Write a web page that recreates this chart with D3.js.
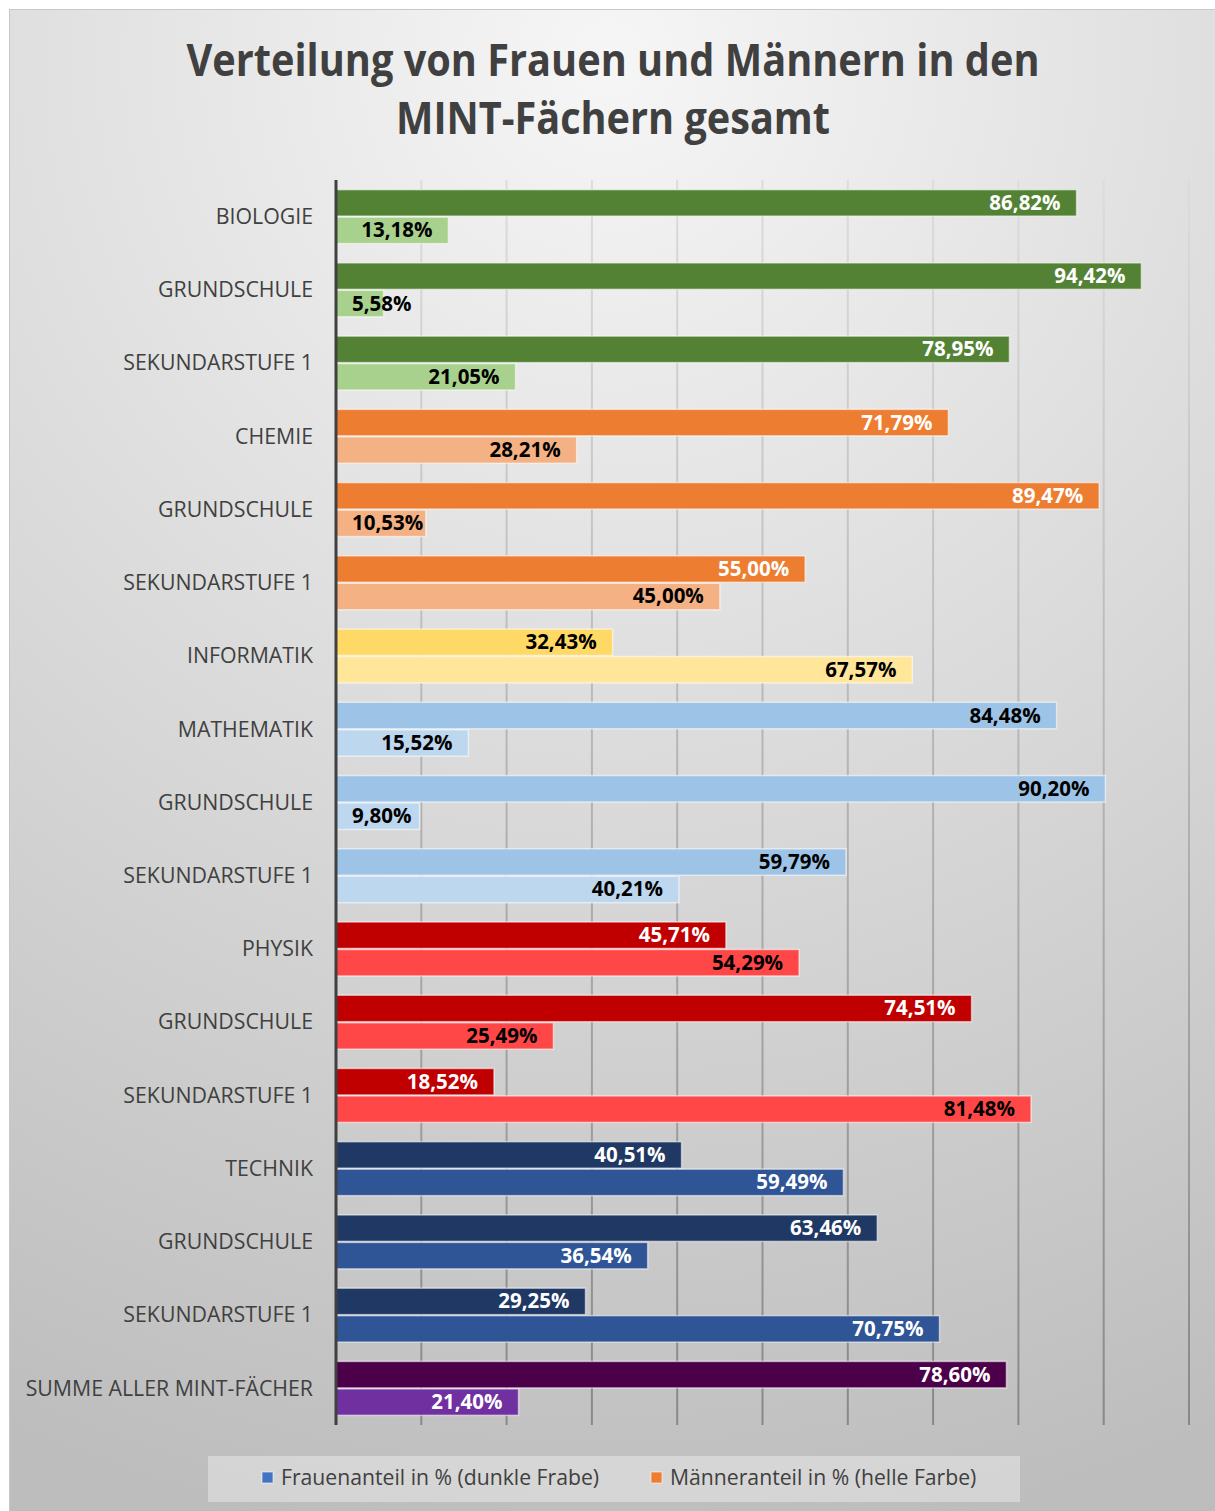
<!DOCTYPE html>
<html>
<head>
<meta charset="utf-8">
<script src="https://cdn.jsdelivr.net/npm/d3@7"></script>
<style>
  html, body { margin: 0; padding: 0; background: #fff; }
  svg { display: block; }
  text { font-family: "Open Sans", "Noto Sans", sans-serif; }
</style>
</head>
<body>
<div id="chart"></div>
<script>
// --- data ---
const categories = [
  "BIOLOGIE", "GRUNDSCHULE", "SEKUNDARSTUFE 1",
  "CHEMIE", "GRUNDSCHULE", "SEKUNDARSTUFE 1",
  "INFORMATIK",
  "MATHEMATIK", "GRUNDSCHULE", "SEKUNDARSTUFE 1",
  "PHYSIK", "GRUNDSCHULE", "SEKUNDARSTUFE 1",
  "TECHNIK", "GRUNDSCHULE", "SEKUNDARSTUFE 1",
  "SUMME ALLER MINT-FÄCHER"
];
const subjects = [
  "bio", "bio", "bio", "chem", "chem", "chem", "inf",
  "mat", "mat", "mat", "phy", "phy", "phy", "tec", "tec", "tec", "sum"
];
const frauen = [86.82, 94.42, 78.95, 71.79, 89.47, 55.00, 32.43, 84.48, 90.20, 59.79, 45.71, 74.51, 18.52, 40.51, 63.46, 29.25, 78.60];
const maenner = [13.18, 5.58, 21.05, 28.21, 10.53, 45.00, 67.57, 15.52, 9.80, 40.21, 54.29, 25.49, 81.48, 59.49, 36.54, 70.75, 21.40];
const gridTicks = [0, 10, 20, 30, 40, 50, 60, 70, 80, 90, 100];
const legendLabels = ["Frauenanteil in % (dunkle Frabe)", "Männeranteil in % (helle Farbe)"];
const titleLines = ["Verteilung von Frauen und Männern in den", "MINT-Fächern gesamt"];

// colours per subject: [dark bar, light bar, dark label, light label]
const palette = {
  bio:  ["#548235", "#a9d18e", "#fff", "#000"],
  chem: ["#ed7d31", "#f4b183", "#fff", "#000"],
  inf:  ["#ffd966", "#ffe699", "#000", "#000"],
  mat:  ["#9dc3e6", "#bdd7ee", "#000", "#000"],
  phy:  ["#c00000", "#ff4747", "#fff", "#000"],
  tec:  ["#203864", "#2f5597", "#fff", "#fff"],
  sum:  ["#4b0049", "#7030a0", "#fff", "#fff"]
};

const W = 1215, H = 1511;
const plot = { left: 336, right: 1189, top: 180, bottom: 1425 };

const svg = d3.select("#chart").append("svg")
  .attr("width", W)
  .attr("height", H);

const defs = svg.append("defs");
const bg = defs.append("radialGradient")
  .attr("id", "bg")
  .attr("gradientUnits", "userSpaceOnUse")
  .attr("cx", 610).attr("cy", 60).attr("r", 1500);
bg.append("stop").attr("offset", "0%").attr("stop-color", "#f6f6f6");
bg.append("stop").attr("offset", "100%").attr("stop-color", "#bdbdbd");

const gridGrad = defs.append("linearGradient")
  .attr("id", "gridGrad")
  .attr("gradientUnits", "userSpaceOnUse")
  .attr("x1", 0).attr("x2", 0)
  .attr("y1", plot.top).attr("y2", plot.bottom);
gridGrad.append("stop").attr("offset", "0%").attr("stop-color", "#dcdcdc");
gridGrad.append("stop").attr("offset", "100%").attr("stop-color", "#888");

// chart frame
svg.append("rect")
  .attr("x", 9.5).attr("y", 9.5)
  .attr("width", W).attr("height", H)
  .attr("fill", "url(#bg)")
  .attr("stroke", "#c8c8c8");

// title
const title = svg.append("g").attr("font-weight", 700).attr("fill", "#404040")
  .attr("text-anchor", "middle");
title.selectAll("text").data(titleLines).join("text")
  .attr("x", 613)
  .attr("y", (d, i) => 76 + i * 58)
  .attr("font-size", 44)
  .attr("textLength", (d, i) => i === 0 ? 853 : 434)
  .attr("lengthAdjust", "spacingAndGlyphs")
  .text(d => d);

// scales
const x = d3.scaleLinear().domain([0, 100]).range([plot.left, plot.right]);
const y = d3.scaleBand()
  .domain(d3.range(categories.length))
  .range([plot.top, plot.bottom])
  .paddingInner(0.25)
  .paddingOuter(0.125);
const ySub = d3.scaleBand().domain([0, 1]).range([0, y.bandwidth()]);

// gridlines
svg.append("g")
  .selectAll("line")
  .data(gridTicks.slice(1))
  .join("line")
  .attr("x1", d => x(d)).attr("x2", d => x(d))
  .attr("y1", plot.top).attr("y2", plot.bottom)
  .attr("stroke", "url(#gridGrad)")
  .attr("stroke-width", 2);

// bars
const rows = categories.map((c, i) => ({
  i, cat: c, subj: subjects[i],
  vals: [frauen[i], maenner[i]]
}));

const fmt = v => v.toFixed(2).replace(".", ",") + "%";

const grp = svg.append("g")
  .selectAll("g")
  .data(rows)
  .join("g")
  .attr("transform", d => `translate(0,${y(d.i)})`);

grp.selectAll("rect")
  .data(d => d.vals.map((v, k) => ({ v, k, subj: d.subj })))
  .join("rect")
  .attr("x", x(0))
  .attr("y", d => ySub(d.k) + 0.5)
  .attr("width", d => x(d.v) - x(0))
  .attr("height", ySub.bandwidth() - 1)
  .attr("fill", d => palette[d.subj][d.k])
  .attr("stroke", "rgba(255,255,255,0.55)")
  .attr("stroke-width", 1.5);

const labels = grp.selectAll("text")
  .data(d => d.vals.map((v, k) => ({ v, k, subj: d.subj })))
  .join("text")
  .attr("y", d => ySub(d.k) + ySub.bandwidth() / 2)
  .attr("dy", "0.34em")
  .attr("font-size", 20.5)
  .attr("font-weight", 700)
  .attr("fill", d => palette[d.subj][d.k + 2])
  .text(d => fmt(d.v));

labels.each(function(d) {
  const w = this.getComputedTextLength();
  const end = x(d.v) - 16;
  let start = end - w;
  if (start < x(0) + 16) start = x(0) + 16;
  d3.select(this).attr("x", start);
});

// category axis
svg.append("g")
  .selectAll("text")
  .data(rows)
  .join("text")
  .attr("x", 313)
  .attr("y", d => y(d.i) + y.bandwidth() / 2)
  .attr("dy", "0.34em")
  .attr("text-anchor", "end")
  .attr("font-size", 21.3)
  .attr("fill", "#404040")
  .text(d => d.cat);

svg.append("line")
  .attr("x1", x(0)).attr("x2", x(0))
  .attr("y1", plot.top).attr("y2", plot.bottom)
  .attr("stroke", "#404040")
  .attr("stroke-width", 3);

// legend
const legend = svg.append("g");
legend.append("rect")
  .attr("x", 208).attr("y", 1456)
  .attr("width", 812).attr("height", 46)
  .attr("fill", "rgba(255,255,255,0.35)");

const legendColors = ["#4472c4", "#ed7d31"];
const legendX = [262, 651];
const li = legend.selectAll("g.item")
  .data(legendLabels)
  .join("g")
  .attr("class", "item")
  .attr("transform", (d, i) => `translate(${legendX[i]},1472)`);
li.append("rect")
  .attr("width", 11).attr("height", 11)
  .attr("fill", (d, i) => legendColors[i])
  .attr("stroke", "rgba(255,255,255,0.6)");
li.append("text")
  .attr("x", 19).attr("y", 6)
  .attr("dy", "0.34em")
  .attr("font-size", 21.2)
  .attr("fill", "#404040")
  .text(d => d);
</script>
</body>
</html>
